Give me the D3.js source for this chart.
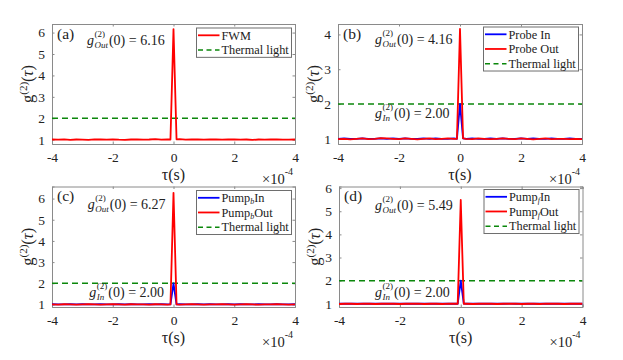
<!DOCTYPE html>
<html><head><meta charset="utf-8">
<script src="https://cdn.jsdelivr.net/npm/d3@7"></script>
<style>
body{margin:0;background:#fff}
svg{display:block}
svg text{font-family:"Liberation Serif","Tinos","Times New Roman","DejaVu Serif","Noto Serif",serif !important;fill:#222}
</style>
</head><body><svg id="c" width="623" height="360"></svg>
<script>
// tau in units of 1e-4 s
const tau = [-4,-3.8,-3.6,-3.4,-3.2,-3,-2.8,-2.6,-2.4,-2.2,-2,-1.8,-1.6,-1.4,-1.2,-1,-0.8,-0.6,-0.4,-0.2,
  -0.1,0,0.1,
  0.2,0.4,0.6,0.8,1,1.2,1.4,1.6,1.8,2,2.2,2.4,2.6,2.8,3,3.2,3.4,3.6,3.8,4];
const xTicks = [-4,-2,0,2,4];
const xTickLabels = ["-4","-2","0","2","4"];

const aOut = [1.01,1.00,1.02,0.99,1.01,1.00,0.99,1.02,1.01,1.00,
  1.02,1.00,0.99,1.01,1.02,1.00,1.01,1.03,1.00,1.02,
  1.01,6.16,1.02,
  1.03,1.00,1.02,1.01,1.00,1.02,1.01,1.00,1.01,1.02,
  1.00,1.01,0.99,1.01,1.00,1.02,1.01,1.00,1.00,1.01];
const bIn = [1.00,1.01,1.00,1.00,1.01,1.00,1.00,1.01,1.00,1.01,
  1.00,1.01,1.00,1.00,1.01,1.00,1.01,1.00,1.00,1.01,
  1.00,2.00,1.01,
  1.00,1.01,1.00,1.00,1.01,1.00,1.01,1.00,1.00,1.01,
  1.00,1.01,1.00,1.00,1.01,1.00,1.00,1.01,1.00,1.00];
const bOut = [0.99,1.00,0.98,1.00,1.01,0.99,1.00,1.02,1.01,1.00,
  0.99,1.01,1.00,0.98,1.00,1.01,0.99,1.00,1.01,1.00,
  1.00,4.16,1.01,
  1.00,0.99,1.01,1.00,0.99,1.00,1.01,1.00,0.99,1.01,
  1.00,0.98,1.00,1.01,0.99,1.00,1.00,0.99,1.00,0.99];
const cIn = [1.01,1.00,1.00,1.01,1.00,1.01,1.00,1.00,1.01,1.00,
  1.00,1.01,1.00,1.01,1.00,1.00,1.01,1.00,1.01,1.00,
  1.00,2.00,1.00,
  1.01,1.00,1.00,1.01,1.00,1.01,1.00,1.00,1.01,1.00,
  1.01,1.00,1.00,1.01,1.00,1.00,1.01,1.00,1.00,1.01];
const cOut = [1.00,0.99,1.01,1.00,0.99,1.00,1.01,1.00,0.99,1.00,
  1.01,1.00,0.99,1.01,1.00,1.00,0.99,1.01,1.00,0.99,
  1.00,6.27,1.00,
  0.99,1.00,1.01,1.00,0.99,1.00,1.00,1.01,1.00,0.99,
  1.00,1.01,1.00,0.99,1.00,1.00,1.01,1.00,0.99,1.00];
const dIn = [1.00,1.01,1.00,1.00,1.01,1.00,1.01,1.00,1.00,1.01,
  1.00,1.00,1.01,1.00,1.01,1.00,1.00,1.01,1.00,1.00,
  1.00,2.00,1.01,
  1.00,1.00,1.01,1.00,1.00,1.01,1.00,1.01,1.00,1.00,
  1.01,1.00,1.00,1.01,1.00,1.01,1.00,1.00,1.01,1.00];
const dOut = [0.99,1.00,1.00,0.99,1.01,1.00,0.99,1.00,1.01,1.00,
  0.99,1.00,1.00,1.01,0.99,1.00,1.00,0.99,1.01,1.00,
  1.00,5.49,1.00,
  1.00,0.99,1.00,1.01,1.00,0.99,1.00,1.00,1.01,0.99,
  1.00,1.00,0.99,1.01,1.00,1.00,0.99,1.00,1.01,1.00];
const thermal = 2;

const yTicksA = [1,2,3,4,5,6];
const yTicksB = [1,2,3,4];
const yTicksC = [1,2,3,4,5,6];
const yTicksD = [1,2,3,4,5,6];

const yDomA = [0.8,6.4], yDomB = [0.85,4.3], yDomC = [0.88,6.57], yDomD = [0.86,6.07];

const panelLabels = ["(a)","(b)","(c)","(d)"];
const g2Out = ["6.16","4.16","6.27","5.49"];
const g2In = [null,"2.00","2.00","2.00"];

const legendA = [[{t:"FWM"}], [{t:"Thermal light"}]];
const legendB = [[{t:"Probe In"}], [{t:"Probe Out"}], [{t:"Thermal light"}]];
const legendC = [[{t:"Pump"},{t:"b",sub:1},{t:"In"}], [{t:"Pump"},{t:"b",sub:1},{t:"Out"}], [{t:"Thermal light"}]];
const legendD = [[{t:"Pump"},{t:"f",sub:1},{t:"In"}], [{t:"Pump"},{t:"f",sub:1},{t:"Out"}], [{t:"Thermal light"}]];

const RED = "#ff0000", BLUE = "#0000ff", GREEN = "#0b870b";
const AX = "#8a8a8a";
const FONT = '"Liberation Serif","Tinos","Times New Roman","DejaVu Serif","Noto Serif",serif';

const panels = [
  {box:[52,295,24,144], yDom:yDomA, yTicks:yTicksA, series:[{d:aOut,c:RED}], legend:legendA, lstyle:[RED,"dash"],
   outPos:[-2.85,5.42], inPos:null},
  {box:[338,582,24,144], yDom:yDomB, yTicks:yTicksB, series:[{d:bIn,c:BLUE},{d:bOut,c:RED}], legend:legendB, lstyle:[BLUE,RED,"dash"],
   outPos:[-2.79,3.73], inPos:[-2.79,1.6]},
  {box:[52,295,186.5,307], yDom:yDomC, yTicks:yTicksC, series:[{d:cIn,c:BLUE},{d:cOut,c:RED}], legend:legendC, lstyle:[BLUE,RED,"dash"],
   outPos:[-2.82,5.5], inPos:[-2.77,1.36]},
  {box:[339,582.5,186.5,307], yDom:yDomD, yTicks:yTicksD, series:[{d:dIn,c:BLUE},{d:dOut,c:RED}], legend:legendD, lstyle:[BLUE,RED,"dash"],
   outPos:[-2.82,5.05], inPos:[-2.82,1.3]}
];

const svg = d3.select("#c");

function txt(g){ return g.append("text").attr("font-family",FONT).style("font-family",FONT); }

function gAnn(g, x, y, sub, val){
  const t1 = txt(g).attr("x",x).attr("y",y).style("font-size","14px").style("font-style","italic").text("g");
  const w1 = t1.node().getComputedTextLength();
  const sp = txt(g).attr("x",x+w1+0.5).attr("y",y-8).style("font-size","9px").text("(2)");
  const sb = txt(g).attr("x",x+w1+0.5).attr("y",y+3).style("font-size","9px").style("font-style","italic").text(sub);
  const w2 = Math.max(sp.node().getComputedTextLength(), sb.node().getComputedTextLength());
  txt(g).attr("x",x+w1+w2+1.5).attr("y",y).style("font-size","14px").text("(0) = "+val);
}

panels.forEach((p,i)=>{
  const [x0,x1,y0,y1] = p.box;
  const x = d3.scaleLinear().domain([-4,4]).range([x0,x1]);
  const y = d3.scaleLinear().domain(p.yDom).range([y1,y0]);
  const g = svg.append("g");
  const clipId = "clip"+i;
  svg.append("clipPath").attr("id",clipId).append("rect").attr("x",x0).attr("y",y0).attr("width",x1-x0).attr("height",y1-y0);

  const tl = 2.5;
  const xb = d3.axisBottom(x).tickValues(xTicks).tickSize(-tl).tickFormat((d,j)=>xTickLabels[j]).tickPadding(8);
  const xt = d3.axisTop(x).tickValues(xTicks).tickSize(-tl).tickFormat("");
  const yl = d3.axisLeft(y).tickValues(p.yTicks).tickSize(-tl).tickFormat(d3.format("d")).tickPadding(7);
  const yr = d3.axisRight(y).tickValues(p.yTicks).tickSize(-tl).tickFormat("");
  const axes = [
    g.append("g").attr("transform",`translate(0,${y1})`).call(xb),
    g.append("g").attr("transform",`translate(0,${y0})`).call(xt),
    g.append("g").attr("transform",`translate(${x0},0)`).call(yl),
    g.append("g").attr("transform",`translate(${x1},0)`).call(yr)
  ];
  axes.forEach(a=>{
    a.attr("font-family",FONT);
    a.selectAll(".domain").attr("stroke",AX).attr("stroke-width",1);
    a.selectAll(".tick line").attr("stroke",AX);
    a.selectAll(".tick text").attr("fill","#222").style("font-size","13.5px").style("font-family",FONT);
  });

  const plot = g.append("g").attr("clip-path",`url(#${clipId})`);
  plot.append("line").attr("x1",x(-4)).attr("x2",x(4)).attr("y1",y(thermal)).attr("y2",y(thermal))
    .attr("stroke",GREEN).attr("stroke-width",1.5).attr("stroke-dasharray","6,4");
  const line = d3.line().x((d,j)=>x(tau[j])).y(d=>y(d));
  p.series.forEach(s=>{
    plot.append("path").datum(s.d).attr("d",line).attr("fill","none").attr("stroke",s.c).attr("stroke-width",1.8).attr("stroke-linejoin","round");
  });

  txt(g).attr("x",x0+5).attr("y",y0+14.5).style("font-size","15.5px").text(panelLabels[i]);

  gAnn(g, x(p.outPos[0]), y(p.outPos[1]), "Out", g2Out[i]);
  if(p.inPos) gAnn(g, x(p.inPos[0]), y(p.inPos[1]), "In", g2In[i]);

  const lw = 95, rh = 14.67, n = p.legend.length;
  const lx = x1 - 3.5 - lw, ly = y0 + (i%2===0 ? 4 : 3);
  const lg = g.append("g");
  lg.append("rect").attr("x",lx).attr("y",ly).attr("width",lw).attr("height",rh*n).attr("fill","#fff").attr("stroke","#6e6e6e").attr("stroke-width",1);
  p.legend.forEach((item,k)=>{
    const cy = ly + 7.3 + k*rh;
    const st = p.lstyle[k];
    const ln = lg.append("line").attr("x1",lx+1.5).attr("x2",lx+23).attr("y1",cy).attr("y2",cy);
    if(st==="dash") ln.attr("stroke",GREEN).attr("stroke-width",1.5).attr("stroke-dasharray","5,3.5");
    else ln.attr("stroke",st).attr("stroke-width",1.8);
    const t = txt(lg).attr("x",lx+25).attr("y",cy+4.2).style("font-size","12.3px");
    item.forEach((seg,si)=>{
      const ts = t.append("tspan").text(seg.t);
      if(seg.sub){ ts.style("font-size","8px").style("font-style","italic").attr("dy",2); }
      else if(si>0 && item[si-1].sub){ ts.attr("dy",-2); }
    });
  });

  const ylab = txt(g).attr("transform",`translate(${x0-19},${(y0+y1)/2}) rotate(-90)`)
    .attr("text-anchor","middle").style("font-size","16.5px");
  ylab.append("tspan").text("g");
  ylab.append("tspan").attr("dy",-6.5).style("font-size","11px").text("(2)");
  ylab.append("tspan").attr("dy",6.5).text("(");
  ylab.append("tspan").style("font-style","italic").text("τ");
  ylab.append("tspan").text(")");

  const xlab = txt(g).attr("x",(x0+x1)/2).attr("y",y1+36).attr("text-anchor","middle").style("font-size","16px");
  xlab.append("tspan").text("τ");
  xlab.append("tspan").text("(s)");

  const ex = txt(g).attr("x",x1-2).attr("y",y1+40).attr("text-anchor","end").style("font-size","14.5px");
  ex.append("tspan").text("×10");
  ex.append("tspan").attr("dy",-9).style("font-size","10px").text("-4");
});
</script>
</body></html>
